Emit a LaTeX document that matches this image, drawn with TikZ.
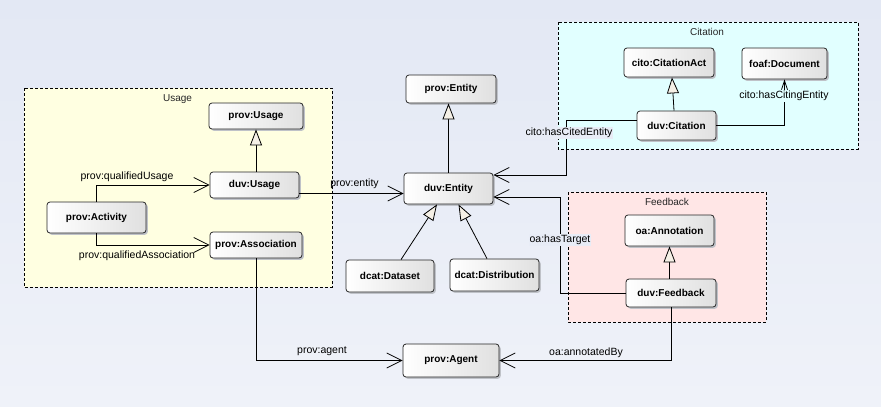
\documentclass[tikz,border=0pt]{standalone}
\usepackage{fontspec}
\setmainfont{Liberation Sans}
\usetikzlibrary{arrows.meta,calc}
\definecolor{bgtop}{HTML}{E3E8F4}
\definecolor{bgbot}{HTML}{EFF2F9}
\definecolor{usagefill}{HTML}{FFFFE1}
\definecolor{citefill}{HTML}{E1FFFF}
\definecolor{feedfill}{HTML}{FFE6E6}
\definecolor{cream}{HTML}{F5F0E6}
\definecolor{nodegray}{HTML}{E0E0E0}
\definecolor{lblbg}{HTML}{E8ECF6}
\definecolor{shadowc}{HTML}{BFC2C8}
\begin{document}
\begin{tikzpicture}[x=1pt,y=-1pt,
 cls/.style={draw=black!85, line width=0.8pt, rounded corners=3pt, left color=white, right color=nodegray,
   preaction={draw=none, fill=shadowc, transform canvas={shift={(1.8pt,-1.8pt)}}},
   font=\fontsize{10}{12}\selectfont\bfseries, inner sep=0pt},
 pkg/.style={draw=black, dash pattern=on 3pt off 2pt, line width=0.7pt},
 pkglbl/.style={font=\fontsize{10}{12}\selectfont, text=black!85, inner sep=1pt},
 lbl/.style={font=\fontsize{10.5}{12}\selectfont, inner sep=1pt},
 conn/.style={line width=0.8pt, draw=black},
 assoc/.style={conn, -{Straight Barb[length=15pt,width=15pt,line width=0.8pt]}},
 smallassoc/.style={conn, -{Straight Barb[length=9pt,width=6pt,line width=0.8pt]}},
 gen/.style={conn, -{Triangle[length=16pt,width=12pt,fill=cream,line width=0.8pt]}},
]
\useasboundingbox (0,0) rectangle (881,407);
\foreach \i in {0,...,19}{
  \pgfmathsetmacro{\p}{100-\i*100/19}
  \fill[bgtop!\p!bgbot] (-2,{\i*20.35-1}) rectangle (883,{(\i+1)*20.35+1});
}

% packages
\draw[pkg, fill=usagefill] (24,88) rectangle (332,287);
\node[pkglbl] (usagelbl) at (177.5,99) {Usage};
\draw[pkg, fill=citefill] (558,22) rectangle (858,149);
\node[pkglbl] (citelbl) at (707,32) {Citation};
\draw[pkg, fill=feedfill] (568,192) rectangle (766,322);
\node[pkglbl] (feedlbl) at (667,202) {Feedback};

% classes
\node[cls, minimum width=94pt, minimum height=26pt] (pusage) at (256,116) {prov:Usage};
\node[cls, minimum width=89pt, minimum height=26pt] (dusage) at (254.5,185) {duv:Usage};
\node[cls, minimum width=99pt, minimum height=31pt] (pact) at (96.5,217.5) {prov:Activity};
\node[cls, minimum width=92pt, minimum height=26pt] (passoc) at (256,245) {prov:Association};
\node[cls, minimum width=90pt, minimum height=28pt] (pentity) at (451,89) {prov:Entity};
\node[cls, minimum width=89pt, minimum height=31pt] (dentity) at (448.5,188.5) {duv:Entity};
\node[cls, minimum width=88pt, minimum height=32pt] (dataset) at (390,276) {dcat:Dataset};
\node[cls, minimum width=89pt, minimum height=32pt] (distrib) at (494.5,275) {dcat:Distribution};
\node[cls, minimum width=90pt, minimum height=29pt] (citact) at (669,62.5) {cito:CitationAct};
\node[cls, minimum width=85pt, minimum height=31pt] (foafdoc) at (784.5,63.5) {foaf:Document};
\node[cls, minimum width=79pt, minimum height=29pt] (dcit) at (676.5,125.5) {duv:Citation};
\node[cls, minimum width=89pt, minimum height=31pt] (annot) at (669.5,230.5) {oa:Annotation};
\node[cls, minimum width=90pt, minimum height=28pt] (dfeed) at (671,293) {duv:Feedback};
\node[cls, minimum width=96pt, minimum height=33pt] (pagent) at (451,360.5) {prov:Agent};

% generalizations
\draw[gen] (pusage.south |- dusage.north) -- (pusage.south);
\draw[gen] (dentity.north) -- (dentity.north |- pentity.south);
\draw[gen] ([xshift=11pt]dataset.north) -- ([xshift=-11.5pt]dentity.south);
\draw[gen] ([xshift=-7.5pt]distrib.north) -- ([xshift=10pt]dentity.south);
\draw[gen] ([xshift=-2.5pt]dcit.north) -- ([xshift=3pt]citact.south);
\draw[gen] (annot.south |- dfeed.north) -- (annot.south);

% associations
\coordinate (c1) at (566,175);
\coordinate (c2) at (560,197);
\draw[assoc] (pact.north) |- (dusage.west);
\draw[assoc] (pact.south) |- (passoc.west);
\draw[assoc] ([yshift=-8.5pt]dusage.east) -- ([yshift=-8.5pt]dusage.east -| dentity.west);
\draw[assoc] (passoc.south) |- (pagent.west);
\draw[assoc] ([yshift=5.5pt]dcit.west) -| (c1) -- (c1 -| dentity.east);
\draw[assoc] (dfeed.west) -| (c2) -- (c2 -| dentity.east);
\draw[assoc] (dfeed.south) |- (pagent.east);
\draw[smallassoc] (dcit.east) -| (foafdoc.south);

% labels
\node[lbl] (l1) at (127,177) {prov:qualifiedUsage};
\node[lbl] (l2) at (137,256) {prov:qualifiedAssociation};
\node[lbl] (l3) at (354.5,184) {prov:entity};
\node[lbl] (l4) at (322,351) {prov:agent};
\node[lbl] (l5) at (586,353) {oa:annotatedBy};
\node[lbl, fill=lblbg] (l6) at (560,240) {oa:hasTarget};
\node[lbl, fill=lblbg] (l7) at (569,133) {cito:hasCitedEntity};
\node[lbl, fill=citefill] (l8) at (784,96) {cito:hasCitingEntity};
\end{tikzpicture}
\end{document}
